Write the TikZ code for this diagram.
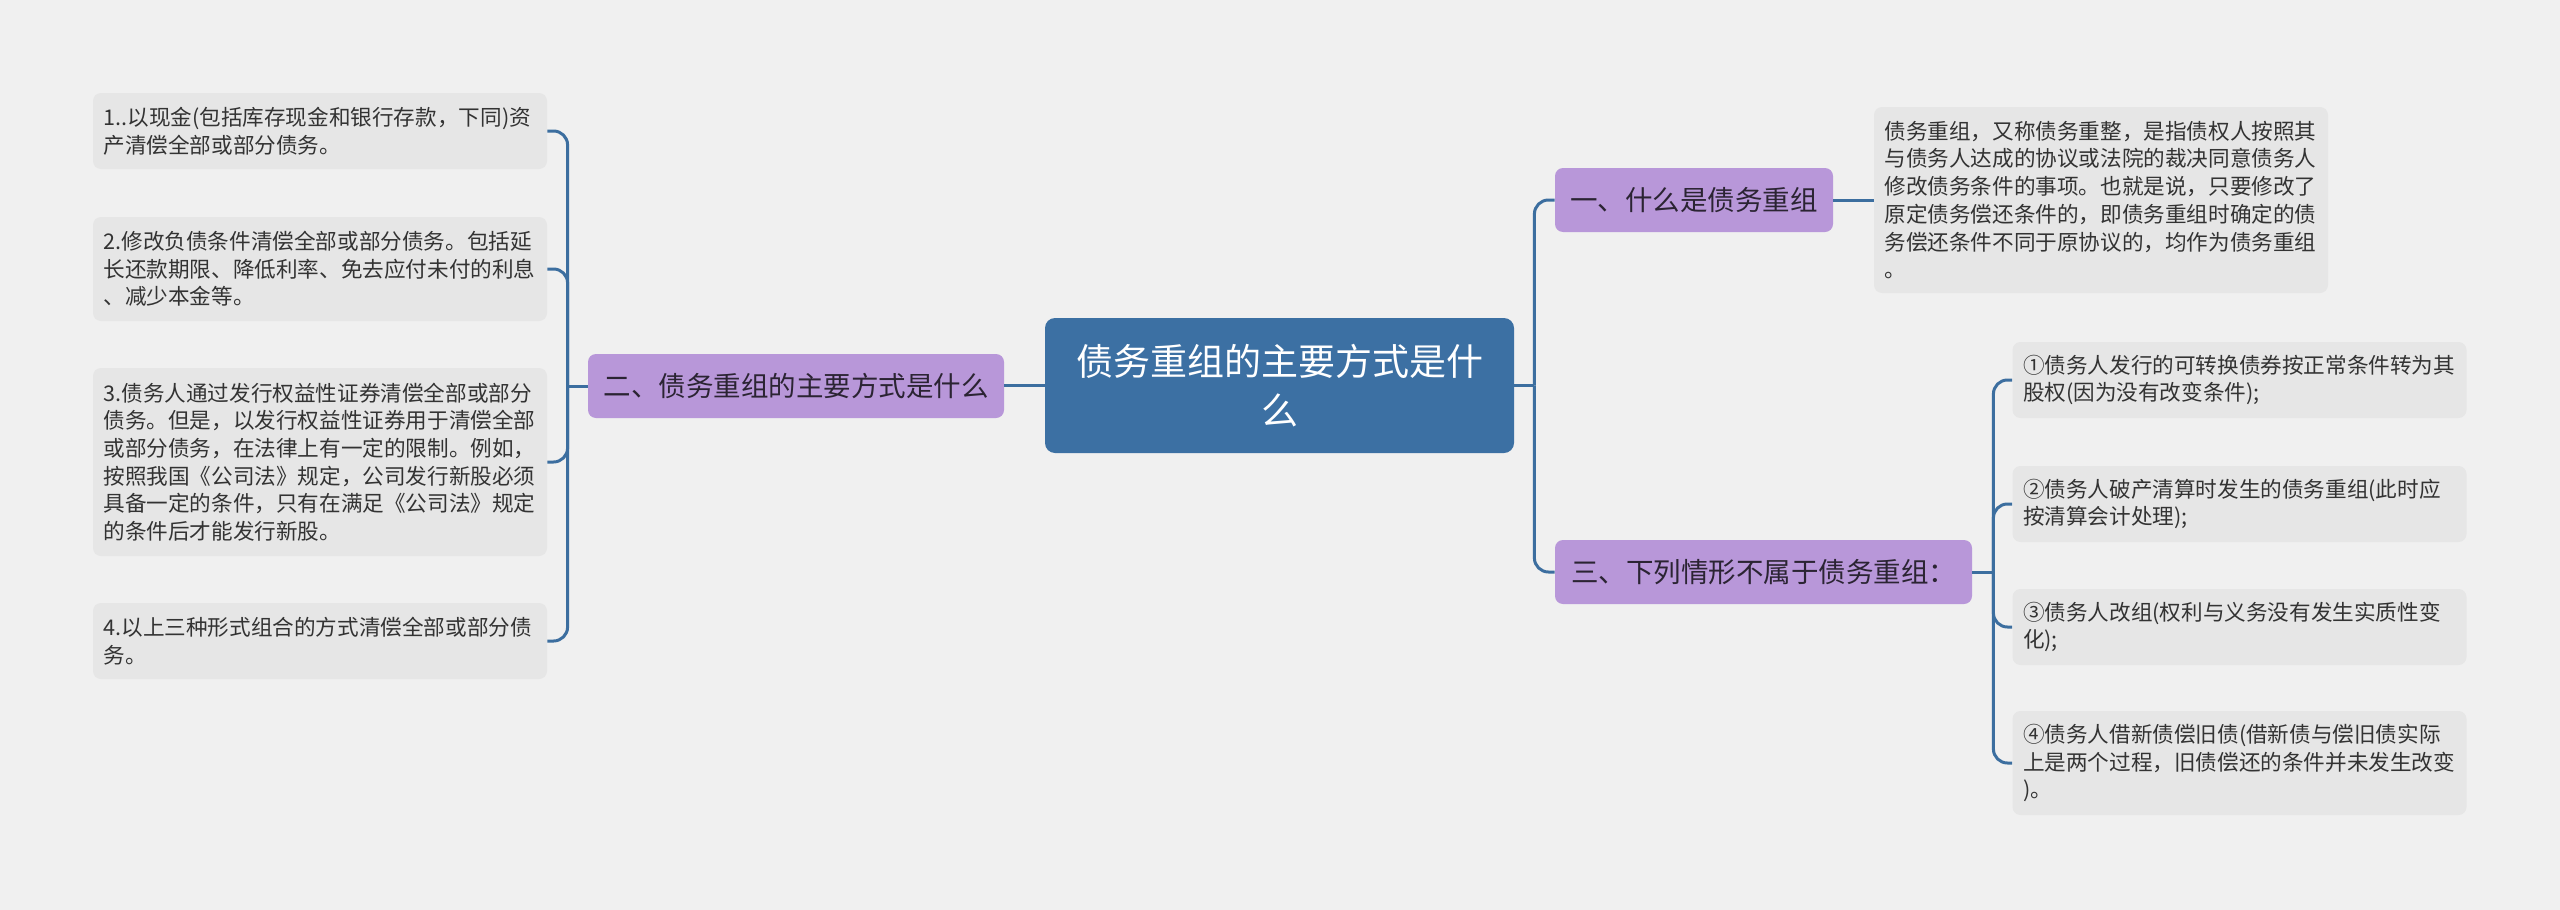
\documentclass[tikz,border=0pt]{standalone}
\usepackage{fontspec}
\newfontfamily\cjk{Noto Sans CJK SC}
\definecolor{bgc}{HTML}{F0F0F0}
\definecolor{leafc}{HTML}{E6E6E6}
\definecolor{purp}{HTML}{B897D9}
\definecolor{rootc}{HTML}{3C70A3}
\definecolor{linec}{HTML}{3C6E9F}
\definecolor{txtc}{HTML}{333333}
\definecolor{ptxt}{HTML}{2B2433}
\begin{document}
\begin{tikzpicture}[x=0.5pt,y=-0.5pt,
  leaf/.style={fill=leafc, rounded corners=4pt, text width=216.5pt, inner xsep=5.25pt, inner ysep=0pt,
    minimum width=227pt, align=left, text=txtc, font=\cjk\fontsize{10.8pt}{13.85pt}\selectfont},
  topic/.style={fill=purp, rounded corners=4pt, inner sep=0pt, text=ptxt, font=\cjk\fontsize{13.75pt}{16pt}\selectfont},
  rootbox/.style={fill=rootc, rounded corners=5pt, inner sep=0pt, text=white, align=center,
    font=\cjk\fontsize{18.5pt}{24.5pt}\selectfont},
  link/.style={draw=linec, line width=1.5pt},
  bracketline/.style={link, rounded corners=7pt}]
\fill[bgc] (0,0) rectangle (2560,910);
% root
\node[rootbox, minimum width=234.5pt, minimum height=67.5pt] (c) at (1279.5,385.5) {债务重组的主要方式是什\\么};
% topics
\node[topic, minimum width=208pt, minimum height=32pt] (n2) at (796,386) {二、债务重组的主要方式是什么};
\node[topic, minimum width=139pt, minimum height=32pt] (n1) at (1694,200) {一、什么是债务重组};
\node[topic, minimum width=208.5pt, minimum height=32pt] (n3) at (1763.5,572) {三、下列情形不属于债务重组：};
% description
\node[leaf, minimum height=93pt] (d) at (2101,200) {债务重组，又称债务重整，是指债权人按照其\\与债务人达成的协议或法院的裁决同意债务人\\修改债务条件的事项。也就是说，只要修改了\\原定债务偿还条件的，即债务重组时确定的债\\务偿还条件不同于原协议的，均作为债务重组\\。};
% left leaves
\node[leaf, minimum height=38pt] (l1) at (320,131) {1..以现金(包括库存现金和银行存款，下同)资\\产清偿全部或部分债务。};
\node[leaf, minimum height=52pt] (l2) at (320,269) {2.修改负债条件清偿全部或部分债务。包括延\\长还款期限、降低利率、免去应付未付的利息\\、减少本金等。};
\node[leaf, minimum height=94pt] (l3) at (320,462) {3.债务人通过发行权益性证券清偿全部或部分\\债务。但是，以发行权益性证券用于清偿全部\\或部分债务，在法律上有一定的限制。例如，\\按照我国《公司法》规定，公司发行新股必须\\具备一定的条件，只有在满足《公司法》规定\\的条件后才能发行新股。};
\node[leaf, minimum height=38pt] (l4) at (320,641) {4.以上三种形式组合的方式清偿全部或部分债\\务。};
% right leaves
\node[leaf, minimum height=38pt] (r1) at (2239.5,380) {①债务人发行的可转换债券按正常条件转为其\\股权(因为没有改变条件);};
\node[leaf, minimum height=38pt] (r2) at (2239.5,504) {②债务人破产清算时发生的债务重组(此时应\\按清算会计处理);};
\node[leaf, minimum height=38pt] (r3) at (2239.5,627) {③债务人改组(权利与义务没有发生实质性变\\化);};
\node[leaf, minimum height=52pt] (r4) at (2239.5,763) {④债务人借新债偿旧债(借新债与偿旧债实际\\上是两个过程，旧债偿还的条件并未发生改变\\)。};
% connectors
\draw[link] (c.west) -- (c.west -| n2.east);
\coordinate (bl) at ([xshift=-10pt]n2.west);
\draw[link] (n2.west) -- (bl);
\foreach \nm in {l1,l2,l3,l4} \draw[bracketline] (bl) |- (\nm.east);
\coordinate (br) at ([xshift=10pt]c.east);
\draw[link] (c.east) -- (br);
\draw[bracketline] (br) |- (n1.west);
\draw[bracketline] (br) |- (n3.west);
\draw[link] (n1.east) -- (n1.east -| d.west);
\coordinate (br3) at ([xshift=10.5pt]n3.east);
\draw[link] (n3.east) -- (br3);
\foreach \nm in {r1,r2,r3,r4} \draw[bracketline] (br3) |- (\nm.west);
\end{tikzpicture}
\end{document}
